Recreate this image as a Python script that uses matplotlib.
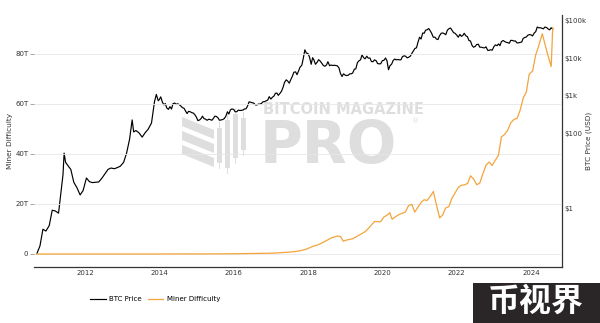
import matplotlib.pyplot as plt
import matplotlib.patches as patches
import matplotlib.ticker as mticker
import pandas as pd

# BTC price (USD) 2010-2013, x in fractional years
precio_t_ini = [
    2010.70, 2010.79, 2010.87, 2010.95,
    2011.04, 2011.12, 2011.20, 2011.29, 2011.37, 2011.41, 2011.44, 2011.48, 2011.54, 2011.62, 2011.70, 2011.79, 2011.87, 2011.95,
    2012.04, 2012.12, 2012.20, 2012.29, 2012.37, 2012.45, 2012.54, 2012.62, 2012.70, 2012.79, 2012.87, 2012.95,
    2013.04, 2013.12, 2013.20, 2013.27, 2013.31, 2013.37, 2013.45, 2013.54, 2013.62, 2013.70, 2013.79, 2013.87, 2013.92, 2013.97,
]
precio_usd_ini = [
    0.06, 0.10, 0.28, 0.25,
    0.35, 0.90, 0.86, 0.75, 3.5, 8.0, 30.0, 17.0, 14.0, 11.0, 5.0, 3.5, 2.3, 3.0,
    6.5, 5.2, 4.9, 5.0, 5.1, 6.3, 8.5, 11.0, 12.0, 11.5, 12.3, 13.4,
    17.0, 30.0, 70.0, 230.0, 110.0, 120.0, 105.0, 80.0, 105.0, 130.0, 190.0, 700.0, 1100.0, 750.0,
]

# BTC price (USD) desde 2014, dos valores por mes (día 1 y 15)
fechas_quincena = pd.date_range("2014-01-01", "2024-08-01", freq="SMS")
precio_usd_quincena = [
    # 2014
    800, 950, 680, 580, 630, 480, 440, 520, 450, 620, 650, 600,
    620, 590, 540, 490, 470, 400, 340, 390, 380, 360, 350, 320,
    # 2015
    270, 220, 230, 250, 290, 250, 240, 225, 240, 235, 225, 250,
    290, 285, 260, 225, 230, 235, 250, 285, 380, 330, 430, 450,
    # 2016
    440, 380, 380, 420, 410, 415, 420, 450, 455, 530, 700, 680,
    660, 650, 580, 575, 610, 605, 640, 700, 710, 740, 780, 960,
    # 2017
    830, 920, 1000, 1180, 1200, 1040, 1180, 1330, 1700, 2300, 2700, 2500,
    2200, 2700, 3400, 4300, 4400, 3700, 4700, 5900, 6600, 9900, 17000, 14000,
    # 2018
    13500, 11000, 7000, 10500, 9000, 7000, 8000, 9300, 8500, 7500, 6500, 6200,
    6700, 8200, 6400, 6700, 6500, 6600, 6500, 6400, 5600, 4000, 3300, 3900,
    # 2019
    3600, 3500, 3600, 3900, 3900, 4100, 5200, 5300, 7800, 8600, 9300, 12500,
    10500, 9800, 11500, 10200, 10300, 8300, 8200, 9200, 8700, 7300, 7200, 7200,
    # 2020
    8800, 8900, 10300, 8700, 5000, 6400, 7100, 8800, 9700, 9200, 9400, 9200,
    9200, 11100, 11800, 11500, 10400, 10800, 11500, 13500, 16000, 18500, 19300, 27000,
    # 2021
    37000, 33000, 48000, 47000, 57000, 58000, 63000, 55000, 46000, 37000, 37000, 33000,
    32000, 40000, 47000, 48000, 46000, 43000, 57000, 62000, 65000, 57000, 49000, 47000,
    # 2022
    42000, 37000, 44000, 39000, 41000, 47000, 40000, 38500, 30000, 29500, 22000, 20000,
    21000, 23500, 24000, 20000, 20000, 19400, 19200, 20500, 16500, 16500, 17200, 16600,
    # 2023
    20800, 23000, 22000, 24500, 22000, 28000, 30200, 28500, 27000, 26500, 25500, 30500,
    30300, 29200, 29300, 26000, 26200, 26900, 27500, 34500, 36500, 37500, 42000, 43500,
    # 2024
    42500, 40000, 48000, 52000, 69000, 66000, 66000, 64000, 62000, 69000, 67000, 61500,
    58000, 66000, 61000,
]

# Dificultad de minado (en T = 1e12)
dif_t = [
    2010.70, 2011.50, 2012.50, 2013.50, 2013.95, 2014.50, 2014.95, 2015.50, 2015.95, 2016.50, 2016.95,
    2017.20, 2017.45, 2017.62, 2017.79, 2017.95,
    2018.12, 2018.29, 2018.45, 2018.62, 2018.79, 2018.87, 2018.95,
    2019.04, 2019.20, 2019.37, 2019.54, 2019.62, 2019.79, 2019.95,
    2020.04, 2020.12, 2020.20, 2020.26, 2020.37, 2020.45, 2020.62, 2020.70, 2020.79, 2020.87, 2020.95,
    2021.04, 2021.12, 2021.20, 2021.29, 2021.37, 2021.45, 2021.54, 2021.62, 2021.70, 2021.79, 2021.87, 2021.95,
    2022.04, 2022.12, 2022.20, 2022.29, 2022.37, 2022.45, 2022.54, 2022.62, 2022.70, 2022.79, 2022.87, 2022.95,
    2023.04, 2023.12, 2023.20, 2023.29, 2023.37, 2023.45, 2023.54, 2023.62, 2023.70, 2023.79, 2023.87, 2023.95,
    2024.04, 2024.12, 2024.20, 2024.30, 2024.38, 2024.45, 2024.54, 2024.58,
]
dif_T = [
    0.0, 0.0000018, 0.0000023, 0.00003, 0.0011, 0.017, 0.040, 0.048, 0.10, 0.21, 0.31,
    0.46, 0.71, 0.92, 1.3, 1.9,
    3.0, 3.8, 5.0, 6.4, 7.2, 7.0, 5.1,
    5.6, 6.1, 7.5, 9.0, 10.2, 13.0, 12.9,
    14.8, 15.5, 16.5, 13.9, 15.1, 15.8, 16.8, 19.3, 19.9, 16.8, 18.6,
    20.6, 21.7, 21.4, 23.1, 25.0, 19.9, 14.4, 15.6, 18.4, 19.0, 22.3, 24.3,
    26.6, 27.5, 27.6, 28.2, 31.3, 30.0, 27.7, 28.4, 32.0, 35.6, 36.8, 35.4,
    37.6, 39.4, 46.8, 47.9, 49.5, 52.4, 53.9, 54.2, 57.3, 62.5, 64.7, 72.0,
    73.2, 79.5, 83.1, 88.1, 83.5, 79.5, 75.0, 90.5,
]

ticks_dif = [0, 20, 40, 60, 80]
etiquetas_dif = ["0", "20T", "40T", "60T", "80T"]
ticks_precio = [1, 100, 1000, 10000, 100000]
etiquetas_precio = ["$1", "$100", "$1k", "$10k", "$100k"]
anios = [2012, 2014, 2016, 2018, 2020, 2022, 2024]

NARANJA = "#f3a43c"
GRIS_MARCA = "#dedede"
W, H = 600, 323


def px(x, y):
    """Pixel (desde arriba-izquierda) a fracción de figura."""
    return (x / W, 1 - y / H)


# fechas quincenales a años decimales
t_quincena = [f.year + (f.dayofyear - 1) / 365.25 for f in fechas_quincena]
precio_t = precio_t_ini + t_quincena
precio_usd = precio_usd_ini + precio_usd_quincena

fig = plt.figure(figsize=(6, 3.23), dpi=100, facecolor="white")
x0, y0 = px(34, 267)
x1, y1 = px(562, 15)
ancho_ax = 562 - 34
ax_p = fig.add_axes([x0, y0, x1 - x0, y1 - y0])   # precio, eje derecho log
ax_d = ax_p.twinx()                               # dificultad, eje izquierdo
ax_p.patch.set_visible(False)
ax_d.patch.set_visible(False)

# --- marca de agua ---
fig.text(*px(263, 113.5), "BITCOIN MAGAZINE", fontsize=10.5, fontweight="bold",
         color=GRIS_MARCA, ha="left", va="baseline", zorder=-5)
fig.text(*px(260, 163), "PRO", fontsize=42, fontweight="heavy",
         color=GRIS_MARCA, ha="left", va="baseline", zorder=-5)
fig.text(*px(416, 121), "®", fontsize=5, color=GRIS_MARCA, ha="center", va="center", zorder=-5)
for yb in (117, 131, 145):
    poly = [px(182, yb), px(214, yb + 13), px(214, yb + 22), px(182, yb + 9)]
    fig.patches.append(patches.Polygon(poly, closed=True, transform=fig.transFigure,
                                       facecolor=GRIS_MARCA, edgecolor="none", zorder=-5))
for xc, ytop, ybot in ((219, 128, 163), (227, 120, 168), (235, 114, 158), (243, 118, 150)):
    fig.patches.append(patches.Rectangle(px(xc - 2.5, ybot), 5 / W, (ybot - ytop) / H,
                                         transform=fig.transFigure, facecolor=GRIS_MARCA,
                                         edgecolor="none", zorder=-5))
    fig.patches.append(patches.Rectangle(px(xc - 0.5, ybot + 6), 1 / W, (ybot - ytop + 12) / H,
                                         transform=fig.transFigure, facecolor=GRIS_MARCA,
                                         edgecolor="none", zorder=-5))

# --- series ---
l_precio, = ax_p.plot(precio_t, precio_usd, color="black", lw=0.85, label="BTC Price")
l_dif, = ax_d.plot(dif_t, dif_T, color=NARANJA, lw=0.9, label="Miner Difficulty")

ax_p.set_yscale("log")
ax_p.set_ylim(0.0275, 144500)
ax_d.set_ylim(-5.2, 95.6)
ax_p.set_xlim(2010.63, 2024.83)

# eje de precio a la derecha, dificultad a la izquierda
ax_p.yaxis.tick_right()
ax_p.yaxis.set_label_position("right")
ax_d.yaxis.tick_left()
ax_d.yaxis.set_label_position("left")

ax_p.set_yticks(ticks_precio)
ax_p.set_yticklabels(etiquetas_precio)
ax_p.yaxis.set_minor_locator(mticker.NullLocator())
ax_d.set_yticks(ticks_dif)
ax_d.set_yticklabels(etiquetas_dif)
ax_p.set_xticks(anios)
ax_p.set_xticklabels([str(a) for a in anios])

ax_d.grid(True, axis="y", color="#e6e6e6", lw=0.6)
ax_d.set_axisbelow(True)

for a in (ax_p, ax_d):
    for s in a.spines.values():
        s.set_visible(False)
for lado in ("bottom", "right"):
    ax_p.spines[lado].set_visible(True)
    ax_p.spines[lado].set_color("#333333")
    ax_p.spines[lado].set_linewidth(0.9)

ax_p.tick_params(axis="x", length=0, pad=2, labelsize=5, labelcolor="#333333")
ax_p.tick_params(axis="y", length=0, pad=2, labelsize=5, labelcolor="#333333")
ax_d.tick_params(axis="y", length=3, width=0.6, color="#999999", pad=1, labelsize=5, labelcolor="#333333")

ax_d.set_ylabel("Miner Difficulty", fontsize=5.3, color="#333333")
ax_d.yaxis.set_label_coords((13 - 34) / ancho_ax, 0.5)
ax_p.set_ylabel("BTC Price (USD)", fontsize=5.3, color="#333333")
ax_p.yaxis.set_label_coords((586 - 34) / ancho_ax, 0.5)

fig.legend(handles=[l_precio, l_dif], loc="center left", bbox_to_anchor=px(84, 299),
           ncol=2, frameon=False, fontsize=5, handlelength=2.2, handletextpad=0.5,
           columnspacing=0.9)

# recuadro inferior derecho
fig.patches.append(patches.Rectangle(px(473, 323), 127 / W, 40 / H, transform=fig.transFigure,
                                     facecolor="#2a2627", edgecolor="none", zorder=5))
fig.text(*px(536, 302), "币视界", fontsize=23, fontweight="bold", color="white",
         family=["Noto Sans CJK SC", "DejaVu Sans"], ha="center", va="center", zorder=6)

fig.savefig("out.png", dpi=100, facecolor="white")
